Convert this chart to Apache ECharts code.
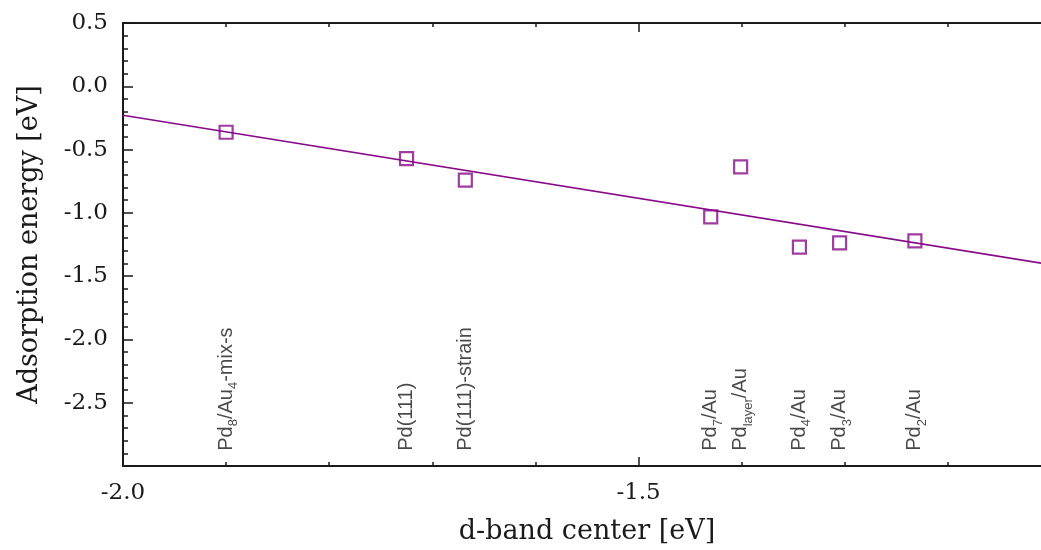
<!DOCTYPE html>
<html>
<head>
<meta charset="utf-8">
<script src="https://cdn.jsdelivr.net/npm/echarts@6/dist/echarts.min.js"></script>
<style>
  html, body { margin: 0; padding: 0; background: #fff; }
  #chart { width: 1041px; height: 550px; }
</style>
</head>
<body>
<div id="chart"></div>
<script>
// d-band centre vs adsorption energy, one square per surface
var dBand   = [-1.900, -1.725, -1.668, -1.430, -1.401, -1.344, -1.305, -1.232];
var eAds    = [-0.363, -0.571, -0.742, -1.032, -0.637, -1.271, -1.237, -1.221];
var names   = [
	'{n|Pd}{s|8}{n|/Au}{s|4}{n|-mix-s}',
	'{n|Pd(111)}',
	'{n|Pd(111)-strain}',
	'{n|Pd}{s|7}{n|/Au}',
	'{n|Pd}{s|layer}{n|/Au}',
	'{n|Pd}{s|4}{n|/Au}',
	'{n|Pd}{s|3}{n|/Au}',
	'{n|Pd}{s|2}{n|/Au}'
];
// linear fit, drawn across the whole x range
var fitX = [-2.0, -1.1];
var fitY = [-0.229, -1.410];
var labelY = -2.88;

var purple = '#880a8a';
var ink = '#1a1a1a';
var serif = 'DejaVu Serif';

var points = dBand.map(function (x, i) { return [x, eAds[i]]; });
var fit = fitX.map(function (x, i) { return [x, fitY[i]]; });
var labelPts = dBand.map(function (x, i) { return { value: [x, labelY], label: { formatter: names[i] } }; });

function halfStep(v) {
	return Math.abs(v * 2 - Math.round(v * 2)) < 1e-6;
}

// the frame runs a little past the right edge of the picture
var xCommon = { type: 'value', min: -2.0, max: -1.1, splitLine: { show: false } };

var option = {
	animation: false,
	grid: { left: 123, right: -10, top: 23, bottom: 84, outerBoundsMode: 'none' },
	xAxis: [
		Object.assign({}, xCommon, {
			position: 'bottom', interval: 0.5,
			name: 'd-band center [eV]', nameLocation: 'middle', nameGap: 52,
			nameTextStyle: { fontFamily: serif, fontSize: 27, color: ink },
			axisLine: { onZero: false, lineStyle: { color: ink, width: 2 } },
			axisTick: { inside: true, length: 9, lineStyle: { color: ink, width: 1.5 } },
			axisLabel: {
				margin: 16, fontFamily: serif, fontSize: 23, color: ink,
				formatter: function (v) { return halfStep(v) ? v.toFixed(1) : ''; }
			}
		}),
		Object.assign({}, xCommon, {
			position: 'bottom', interval: 0.1,
			axisLine: { show: false, onZero: false },
			axisTick: { inside: true, length: 4, lineStyle: { color: ink, width: 1.5 } },
			axisLabel: { show: false }
		}),
		Object.assign({}, xCommon, {
			position: 'top', interval: 0.5,
			axisLine: { onZero: false, lineStyle: { color: ink, width: 2 } },
			axisTick: { inside: true, length: 9, lineStyle: { color: ink, width: 1.5 } },
			axisLabel: { show: false }
		}),
		Object.assign({}, xCommon, {
			position: 'top', interval: 0.1,
			axisLine: { show: false, onZero: false },
			axisTick: { inside: true, length: 4, lineStyle: { color: ink, width: 1.5 } },
			axisLabel: { show: false }
		})
	],
	yAxis: {
		type: 'value', min: -3.0, max: 0.5, interval: 0.5,
		name: 'Adsorption energy [eV]', nameLocation: 'middle', nameGap: 80,
		nameTextStyle: { fontFamily: serif, fontSize: 27, color: ink },
		splitLine: { show: false },
		axisLine: { show: true, onZero: false, lineStyle: { color: ink, width: 2 } },
		axisTick: { inside: true, length: 10, lineStyle: { color: ink, width: 1.5 } },
		minorTick: { show: true, splitNumber: 5, length: 5, lineStyle: { color: ink, width: 1.5 } },
		axisLabel: {
			margin: 15, fontFamily: serif, fontSize: 23, color: ink,
			formatter: function (v) { return Math.abs(v + 3) < 1e-6 ? '' : v.toFixed(1); }
		}
	},
	series: [
		{
			type: 'line', data: fit, symbol: 'none', silent: true,
			lineStyle: { color: purple, width: 1.6 }
		},
		{
			type: 'scatter', data: points, symbol: 'rect', symbolSize: 13,
			itemStyle: { color: '#fff', borderColor: purple, borderWidth: 2.2 }
		},
		{
			type: 'scatter', data: labelPts, symbolSize: 0, silent: true,
			label: {
				show: true, position: 'inside', rotate: 90,
				align: 'left', verticalAlign: 'middle',
				color: ink, fontFamily: 'Liberation Sans',
				rich: {
					n: { fontFamily: 'Liberation Sans', fontSize: 20, lineHeight: 28, verticalAlign: 'middle', color: ink },
					s: { fontFamily: 'Liberation Sans', fontSize: 13, lineHeight: 13, verticalAlign: 'bottom', color: ink }
				}
			}
		}
	]
};

var chart = echarts.init(document.getElementById('chart'));
chart.setOption(option);
</script>
</body>
</html>
